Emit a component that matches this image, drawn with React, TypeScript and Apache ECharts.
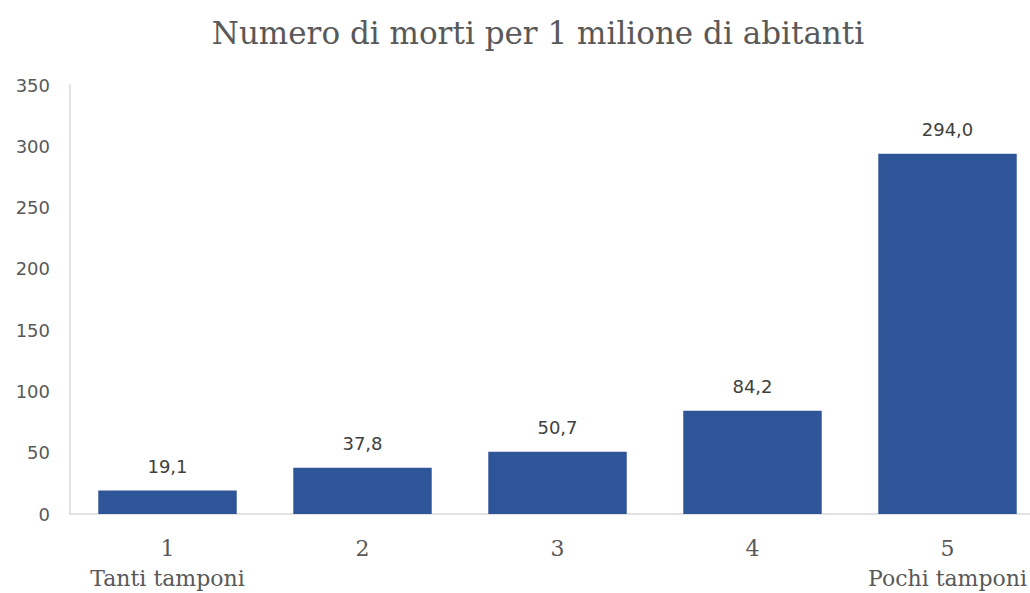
import React, { useEffect, useRef } from "react";
import * as echarts from "echarts";

const categories = ["1", "2", "3", "4", "5"];
const categoryNotes = ["Tanti tamponi", "", "", "", "Pochi tamponi"];
const deaths = [19.1, 37.8, 50.7, 84.2, 294.0];
const titleText = "Numero di morti per 1 milione di abitanti";

export default function App() {
  const ref = useRef<HTMLDivElement>(null);
  useEffect(() => {
    if (!ref.current) return;
    const chart = echarts.init(ref.current, null, { renderer: "svg" });
    chart.setOption({
      animation: false,
      backgroundColor: "#ffffff",
      title: {
        text: titleText,
        left: 533,
        textAlign: "center",
        top: 12,
        textStyle: {
          fontFamily: "'DejaVu Serif', 'Liberation Serif', serif",
          fontWeight: "normal",
          fontSize: 31,
          color: "#595959",
        },
      },
      grid: { left: 70, top: 85, width: 975, height: 433, containLabel: false },
      xAxis: {
        type: "category",
        data: categories,
        axisLine: { show: true, lineStyle: { color: "#d9d9d9", width: 1.5 } },
        axisTick: { show: false },
        axisLabel: {
          interval: 0,
          margin: 19,
          fontFamily: "'DejaVu Serif', 'Liberation Serif', serif",
          fontSize: 22,
          color: "#595959",
          lineHeight: 30,
          formatter: (v: string, i: number) =>
            categoryNotes[i] ? v + "\n" + categoryNotes[i] : v,
        },
      },
      yAxis: {
        type: "value",
        min: 0,
        max: 350,
        interval: 50,
        axisLine: { show: true, lineStyle: { color: "#d9d9d9", width: 1.5 } },
        axisTick: { show: false },
        splitLine: { show: false },
        axisLabel: {
          margin: 20,
          fontFamily: "'DejaVu Sans', sans-serif",
          fontSize: 18,
          color: "#595959",
        },
      },
      series: [
        {
          type: "bar",
          data: deaths,
          barWidth: "71%",
          itemStyle: { color: "#2E5597" },
          label: {
            show: true,
            position: "top",
            distance: 15,
            fontFamily: "'DejaVu Sans', sans-serif",
            fontSize: 18,
            color: "#404040",
            formatter: (p: any) => p.value.toFixed(1).replace(".", ","),
          },
        },
      ],
    });
    return () => chart.dispose();
  }, []);
  return (
    <div
      style={{
        position: "fixed",
        left: 0,
        top: 0,
        width: 1030,
        height: 593,
        overflow: "hidden",
        background: "#fff",
      }}
    >
      <div ref={ref} style={{ width: 1070, height: 593 }} />
    </div>
  );
}
